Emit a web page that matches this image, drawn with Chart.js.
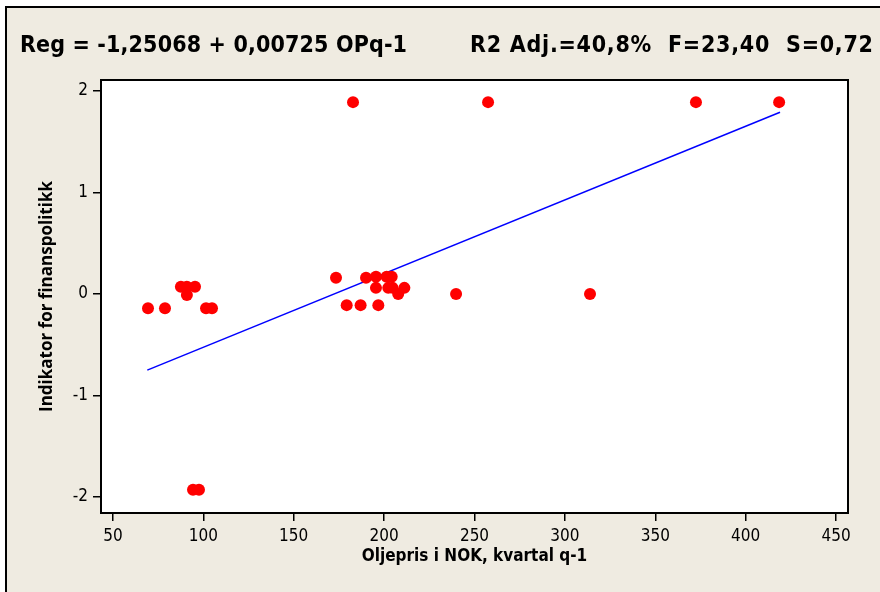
<!DOCTYPE html>
<html>
<head>
<meta charset="utf-8">
<script src="https://cdn.jsdelivr.net/npm/chart.js@4.4.1/dist/chart.umd.min.js"></script>
<style>
  html, body { margin: 0; padding: 0; background: #fff; }
  canvas { display: block; }
</style>
</head>
<body>
<canvas id="myChart" width="880" height="592"></canvas>
<script>
// oil price in NOK, previous quarter (x) vs fiscal policy indicator (y)
const oilPrice = [
  69.4, 78.8, 87.6, 90.9, 95.4, 90.9, 101.5, 104.8, 94.3, 97.6,
  173.4, 190.0, 195.5, 201.4, 204.2, 195.5, 202.3, 204.7, 211.2, 207.8,
  179.3, 187.0, 196.8, 239.8, 313.9, 182.8, 257.5, 372.5, 418.5
];
const indicator = [
  -0.14, -0.14, 0.07, 0.07, 0.07, -0.01, -0.14, -0.14, -1.93, -1.93,
  0.16, 0.16, 0.17, 0.17, 0.17, 0.06, 0.06, 0.06, 0.06, 0.0,
  -0.11, -0.11, -0.11, 0.0, 0.0, 1.89, 1.89, 1.89, 1.89
];
// ends of the fitted line as drawn
const fitX = [69, 419];
const fitY = [-0.75, 1.79];

const xTicks = [50, 100, 150, 200, 250, 300, 350, 400, 450];
const yTicks = [-2, -1, 0, 1, 2];

const titleLeft = 'Reg = -1,25068 + 0,00725 OPq-1';
const titleRight = 'R2 Adj.=40,8%  F=23,40  S=0,72';

const BEIGE = '#efebe1';
const FONT = "'Liberation Sans Narrow', 'DejaVu Sans Condensed', 'Arial Narrow', sans-serif";

Chart.defaults.font.family = FONT;
Chart.defaults.font.size = 16;
Chart.defaults.color = '#000';

const points = oilPrice.map((x, i) => ({ x: x, y: indicator[i] }));
const fitLine = fitX.map((x, i) => ({ x: x, y: fitY[i] }));

// background, outer frame, white plot area
const backdrop = {
  id: 'backdrop',
  beforeDraw(chart) {
    const c = chart.ctx;
    const a = chart.chartArea;
    c.save();
    c.fillStyle = '#fff';
    c.fillRect(0, 0, chart.width, chart.height);
    c.fillStyle = BEIGE;
    c.fillRect(6, 7, chart.width, chart.height);
    c.strokeStyle = '#000';
    c.lineWidth = 2;
    c.beginPath();
    c.moveTo(6, chart.height);
    c.lineTo(6, 7);
    c.lineTo(chart.width, 7);
    c.stroke();
    c.fillStyle = '#fff';
    c.fillRect(a.left, a.top, a.right - a.left, a.bottom - a.top);
    c.restore();
  },
  afterDraw(chart) {
    const c = chart.ctx;
    const a = chart.chartArea;
    c.save();
    c.strokeStyle = '#000';
    c.lineWidth = 2;
    c.strokeRect(a.left, a.top, a.right - a.left, a.bottom - a.top);
    // header text, stretched to the widths seen in the picture
    c.fillStyle = '#000';
    c.font = 'bold 23px ' + FONT;
    c.textBaseline = 'middle';
    const put = (txt, x, w) => {
      const m = c.measureText(txt).width;
      c.letterSpacing = Math.max(0, (w - m) / (txt.length - 1)) + 'px';
      c.fillText(txt, x, 46);
      c.letterSpacing = '0px';
    };
    put(titleLeft, 20, 387);
    put(titleRight, 470, 403);
    c.restore();
  }
};

new Chart(document.getElementById('myChart'), {
  type: 'scatter',
  data: {
    datasets: [
      {
        data: fitLine,
        showLine: true,
        borderColor: '#0000ff',
        borderWidth: 1.5,
        pointRadius: 0,
        order: 2
      },
      {
        data: points,
        backgroundColor: '#ff0000',
        borderColor: '#ff0000',
        pointRadius: 6,
        borderWidth: 0,
        order: 1
      }
    ]
  },
  options: {
    responsive: false,
    animation: false,
    devicePixelRatio: 1,
    layout: { padding: { left: 0, top: 80, right: 32, bottom: 0 } },
    plugins: {
      legend: { display: false },
      tooltip: { enabled: false }
    },
    scales: {
      x: {
        type: 'linear',
        min: 43.4,
        max: 456.6,
        afterFit(s) { s.height = 79; },
        afterBuildTicks(s) { s.ticks = xTicks.map(v => ({ value: v })); },
        ticks: { padding: 5, includeBounds: false, font: { size: 17 } },
        grid: { drawOnChartArea: false, tickLength: 8, color: '#000', lineWidth: 1.5 },
        border: { color: '#000', width: 2 },
        title: {
          display: true,
          text: 'Oljepris i NOK, kvartal q-1',
          font: { size: 17, weight: 'bold' },
          padding: { top: 0, bottom: 25 }
        }
      },
      y: {
        type: 'linear',
        min: -2.158,
        max: 2.108,
        afterFit(s) { s.width = 101; },
        afterBuildTicks(s) { s.ticks = yTicks.map(v => ({ value: v })); },
        ticks: { padding: 5, includeBounds: false, font: { size: 17 } },
        grid: { drawOnChartArea: false, tickLength: 8, color: '#000', lineWidth: 1.5 },
        border: { color: '#000', width: 2 },
        title: {
          display: true,
          text: 'Indikator for finanspolitikk',
          font: { size: 17, weight: 'bold', family: "'Open Sans', sans-serif" },
          padding: { top: 37, bottom: 0 }
        }
      }
    }
  },
  plugins: [backdrop]
});
</script>
</body>
</html>
